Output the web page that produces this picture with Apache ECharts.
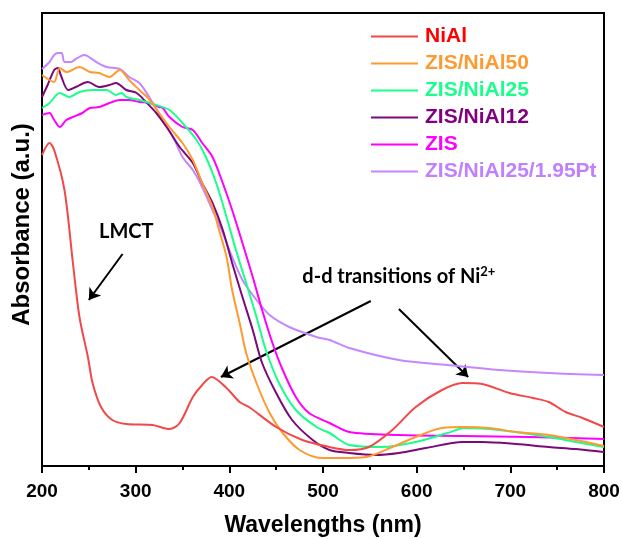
<!DOCTYPE html>
<html lang="en">
  <head>
    <meta charset="UTF-8" />
    <title>UV-vis absorbance</title>
    <style>
      html, body { margin: 0; padding: 0; background: #fff; }
      #chart { width: 622px; height: 539px; }
    </style>
  </head>
  <body>
    <div id="chart"></div>

    <script src="https://cdn.jsdelivr.net/npm/echarts@6/dist/echarts.min.js"></script>
    <script>
      // [wavelength (nm), absorbance (a.u.)]
      const seriesNames = ['NiAl', 'ZIS/NiAl50', 'ZIS/NiAl25', 'ZIS/NiAl12', 'ZIS', 'ZIS/NiAl25/1.95Pt'];
      const lineColors = ['#f24848', '#ff9a30', '#1aff8c', '#7a0a7a', '#ff00ff', '#c586ff'];
      const textColors = ['#ff0000', '#ff9a30', '#1aff8c', '#800080', '#ff00ff', '#c080ff'];

      const niAl = [
        [200, 316], [208, 328], [213, 321], [224, 281], [233, 208], [240, 154], [249, 114],
        [254, 88], [263, 64], [275, 51], [290, 47], [318, 46], [336, 42], [347, 48],
        [361, 74], [371, 86], [381, 94], [397, 83], [411, 69], [421, 64], [450, 44],
        [478, 31], [507, 24], [528, 21], [549, 24], [574, 41], [599, 64], [627, 81],
        [649, 88], [670, 87], [699, 78], [724, 73], [741, 69], [759, 59], [777, 53], [800, 44]
      ];
      const zisNiAl50 = [
        [200, 396], [208, 391], [213, 389], [219, 403], [226, 399], [240, 404], [251, 399],
        [261, 398], [272, 394], [283, 401], [293, 391], [304, 381], [315, 371], [325, 358],
        [336, 344], [350, 328], [361, 311], [371, 288], [382, 264], [389, 241], [397, 214],
        [403, 181], [411, 148], [418, 118], [429, 88], [443, 58], [457, 38], [475, 21],
        [499, 13], [521, 13], [546, 14], [574, 24], [599, 34], [627, 43], [652, 44],
        [677, 43], [706, 39], [741, 36], [770, 31], [800, 25]
      ];
      const zisNiAl25 = [
        [200, 363], [208, 368], [219, 378], [229, 374], [240, 379], [254, 381], [269, 381],
        [279, 376], [285, 378], [290, 374], [304, 371], [315, 368], [336, 361], [350, 348],
        [365, 331], [375, 314], [386, 288], [397, 254], [407, 221], [418, 188], [429, 154],
        [439, 121], [453, 88], [471, 61], [493, 44], [507, 38], [528, 26], [563, 24],
        [599, 29], [633, 38], [651, 43], [688, 41], [741, 34], [770, 29], [800, 24]
      ];
      const zisNiAl12 = [
        [200, 374], [206, 386], [213, 401], [217, 403], [220, 396], [228, 381], [236, 384],
        [249, 389], [261, 384], [272, 386], [279, 388], [290, 381], [301, 378], [311, 369],
        [322, 358], [333, 344], [347, 324], [361, 308], [371, 288], [382, 268], [393, 241],
        [403, 208], [414, 174], [425, 141], [435, 108], [450, 78], [467, 51], [489, 31],
        [507, 21], [528, 18], [556, 16], [581, 18], [610, 23], [649, 29], [670, 29],
        [706, 27], [741, 24], [770, 22], [800, 19]
      ];
      const zis = [
        [200, 356], [208, 358], [213, 351], [219, 344], [226, 351], [233, 354], [243, 358],
        [251, 363], [261, 364], [272, 368], [283, 371], [293, 371], [304, 369], [315, 368],
        [325, 364], [329, 363], [336, 354], [350, 344], [361, 341], [371, 328], [382, 314],
        [393, 288], [403, 261], [414, 228], [425, 194], [435, 161], [446, 128], [457, 101],
        [471, 74], [485, 58], [507, 48], [528, 39], [581, 36], [650, 35], [720, 34], [800, 32]
      ];
      const zisNiAl25Pt = [
        [200, 402], [208, 409], [213, 416], [217, 418], [221, 418], [224, 409], [231, 409],
        [236, 412], [245, 416], [258, 409], [269, 404], [283, 402], [293, 394], [304, 388],
        [315, 373], [329, 351], [340, 334], [350, 314], [361, 301], [371, 284], [382, 261],
        [393, 238], [403, 214], [414, 191], [429, 171], [443, 156], [464, 144], [493, 134],
        [507, 131], [528, 123], [581, 111], [633, 106], [688, 101], [741, 98], [800, 96]
      ];
      const seriesData = [niAl, zisNiAl50, zisNiAl25, zisNiAl12, zis, zisNiAl25Pt];

      // annotation arrows [from, to] and label anchors, in data coordinates
      const arrows = [
        [[286, 217], [250, 171]],
        [[551, 170], [391, 94]],
        [[581, 162], [655, 94]]
      ];
      const lmctLabel = [290, 239];
      const ddLabel = [581, 194];

      const chart = echarts.init(document.getElementById('chart'));

      const series = seriesData.map((data, i) => ({
        name: seriesNames[i],
        type: 'line',
        data: data,
        symbol: 'none',
        smooth: 0.3,
        z: 10 - i,
        lineStyle: { color: lineColors[i], width: 2 },
        itemStyle: { color: lineColors[i] }
      }));

      series[0].markLine = {
        silent: true,
        symbol: ['none', 'arrow'],
        symbolSize: 11,
        label: { show: false },
        lineStyle: { color: '#000', width: 2, type: 'solid' },
        data: arrows.map((a) => [{ coord: a[0] }, { coord: a[1] }])
      };

      const option = {
        animation: false,
        grid: {
          left: 42, right: 18, top: 13, bottom: 73,
          outerBoundsMode: 'none',
          show: true, borderColor: '#000', borderWidth: 2
        },
        legend: {
          orient: 'vertical',
          left: 366,
          top: 21,
          icon: 'rect',
          itemWidth: 47,
          itemHeight: 2,
          itemGap: 6,
          textStyle: { fontFamily: 'Liberation Sans', fontWeight: 'bold', fontSize: 21, padding: [0, 0, 0, 2] },
          data: seriesNames.map((n, i) => ({ name: n, textStyle: { color: textColors[i] } }))
        },
        xAxis: {
          type: 'value',
          min: 200,
          max: 800,
          interval: 100,
          name: 'Wavelengths (nm)',
          nameLocation: 'middle',
          nameGap: 48,
          nameTextStyle: { fontFamily: 'Liberation Sans', fontWeight: 'bold', fontSize: 23, color: '#000' },
          axisLine: { lineStyle: { color: '#000', width: 2 } },
          axisTick: { length: 7, lineStyle: { color: '#000', width: 2 } },
          minorTick: { show: true, splitNumber: 2, length: 4, lineStyle: { color: '#000', width: 2 } },
          axisLabel: { margin: 16, fontFamily: 'Liberation Sans', fontWeight: 'bold', fontSize: 19, color: '#000' },
          splitLine: { show: false }
        },
        yAxis: {
          type: 'value',
          min: 5,
          max: 458,
          name: 'Absorbance (a.u.)',
          nameLocation: 'middle',
          nameGap: 8,
          nameTextStyle: {
            fontFamily: 'Liberation Sans', fontWeight: 'bold', fontSize: 24, color: '#000',
            padding: [0, 0, 0, 30]
          },
          axisLine: { show: true, lineStyle: { color: '#000', width: 2 } },
          axisTick: { show: false },
          axisLabel: { show: false },
          splitLine: { show: false }
        },
        series: series
      };

      chart.setOption(option);

      // text labels placed at data positions
      const p1 = chart.convertToPixel({ gridIndex: 0 }, lmctLabel);
      const p2 = chart.convertToPixel({ gridIndex: 0 }, ddLabel);
      chart.setOption({
        graphic: [
          {
            type: 'text', x: p1[0], y: p1[1], z: 100,
            style: {
              text: 'LMCT', fill: '#000', align: 'center', verticalAlign: 'middle',
              font: 'bold 20px Lato'
            }
          },
          {
            type: 'text', x: p2[0], y: p2[1], z: 100,
            style: {
              text: '{a|d-d transitions of Ni}{s|2+}', align: 'center', verticalAlign: 'middle',
              rich: {
                a: { fontFamily: 'Lato', fontWeight: 'bold', fontSize: 20, color: '#000' },
                s: { fontFamily: 'Lato', fontWeight: 'bold', fontSize: 13, color: '#000', verticalAlign: 'top', padding: [0, 0, 10, 0] }
              }
            }
          }
        ]
      });
    </script>
  </body>
</html>
